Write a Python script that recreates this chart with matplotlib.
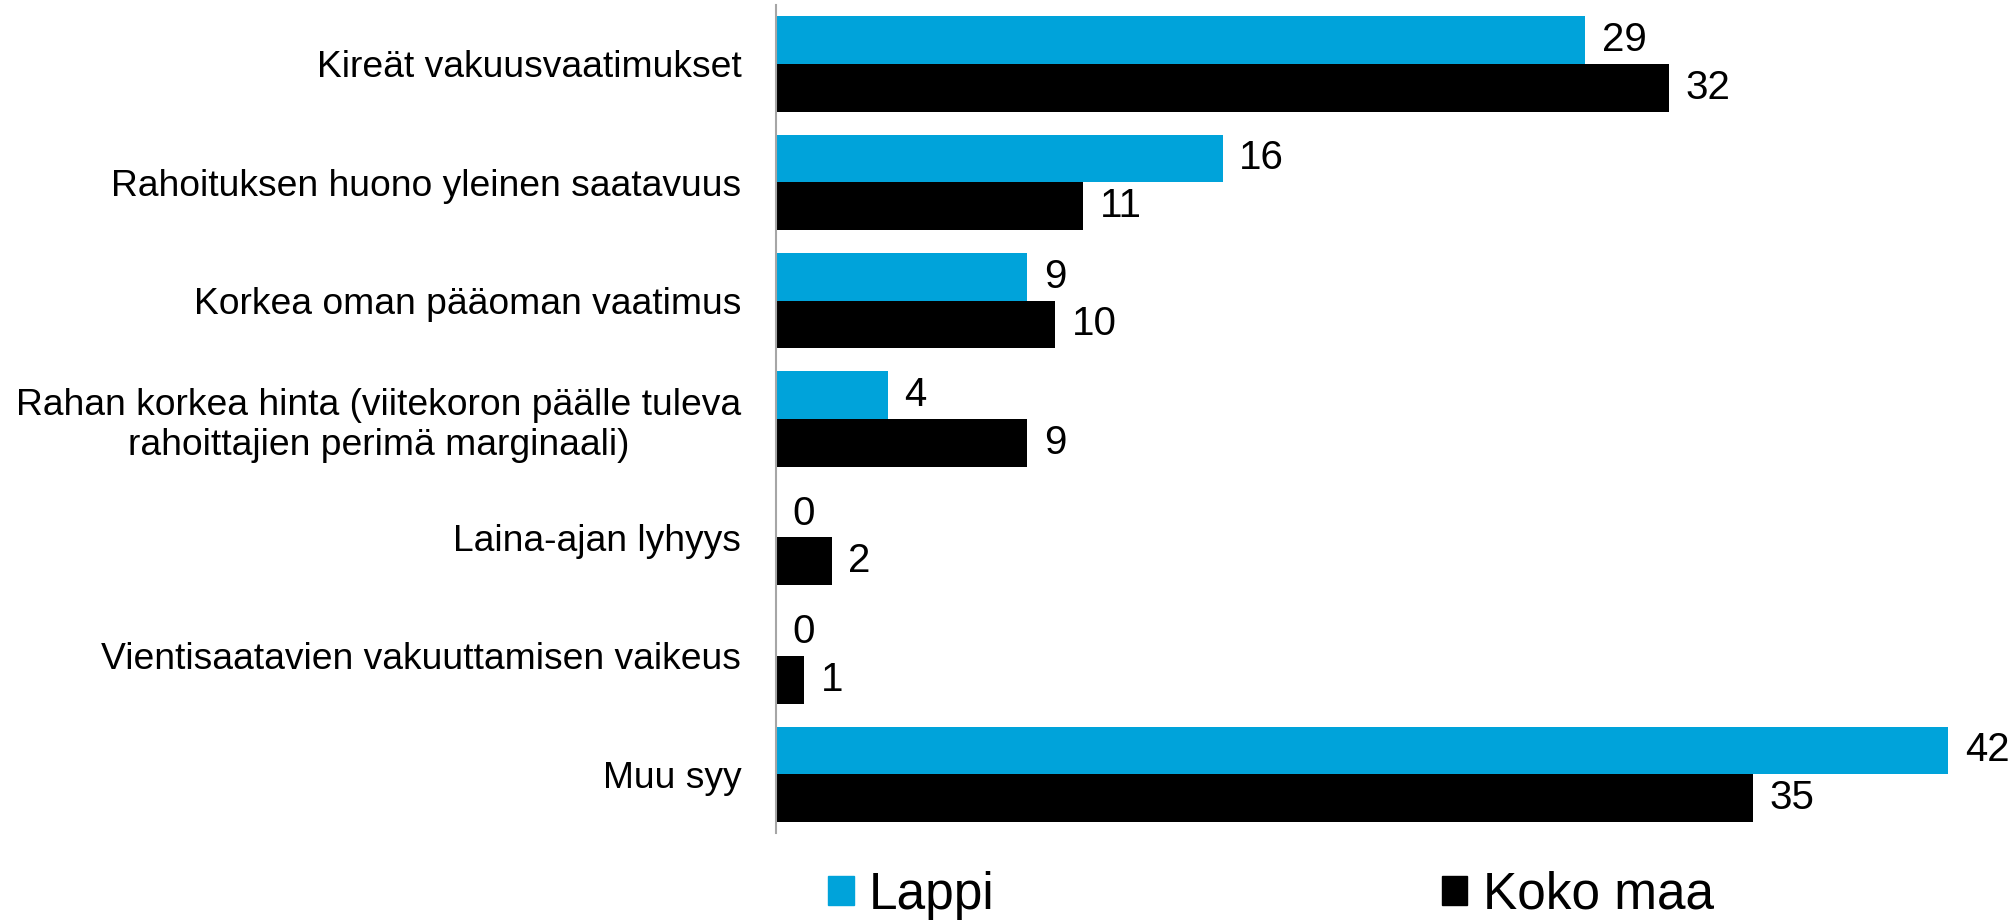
import numpy as np
import matplotlib
matplotlib.use("Agg")
import matplotlib.pyplot as plt
from matplotlib.patches import Patch

categories = [
    "Kireät vakuusvaatimukset",
    "Rahoituksen huono yleinen saatavuus",
    "Korkea oman pääoman vaatimus",
    "Rahan korkea hinta (viitekoron päälle tuleva\nrahoittajien perimä marginaali)",
    "Laina-ajan lyhyys",
    "Vientisaatavien vakuuttamisen vaikeus",
    "Muu syy",
]
lappi = [29, 16, 9, 4, 0, 0, 42]
koko_maa = [32, 11, 10, 9, 2, 1, 35]
series_names = ["Lappi", "Koko maa"]

blue = "#00A3DA"
black = "#000000"

plt.rcParams["font.family"] = ["Liberation Sans", "DejaVu Sans"]

fig = plt.figure(figsize=(20.14, 9.23), dpi=100)
ax = fig.add_axes([776 / 2014, 0.097, 1 - 776 / 2014 - 0.005, 0.995 - 0.097])

y = np.arange(len(categories))
h = 0.403
b1 = ax.barh(y - h / 2, lappi, height=h, color=blue, label=series_names[0])
b2 = ax.barh(y + h / 2, koko_maa, height=h, color=black, label=series_names[1])

ax.bar_label(b1, padding=12, fontsize=29)
ax.bar_label(b2, padding=12, fontsize=29)

ax.set_ylim(len(categories) - 0.5, -0.5)
ax.set_xlim(0, 44)
ax.set_yticks(y)
ax.set_yticklabels(categories, fontsize=26.8, multialignment="center")
ax.tick_params(axis="y", length=0, pad=25)
ax.set_xticks([])

for s in ["top", "right", "bottom"]:
    ax.spines[s].set_visible(False)
ax.spines["left"].set_color("#A6A6A6")
ax.spines["left"].set_linewidth(1.5)

handles = [Patch(color=blue), Patch(color=black)]
fig.legend(handles, series_names, loc="center", bbox_to_anchor=(0.631, 0.03),
           ncol=2, frameon=False, fontsize=37, handlelength=0.5,
           handleheight=0.5, handletextpad=0.3, columnspacing=8.7,
           borderpad=0, borderaxespad=0)

fig.savefig("out.png", dpi=100)
